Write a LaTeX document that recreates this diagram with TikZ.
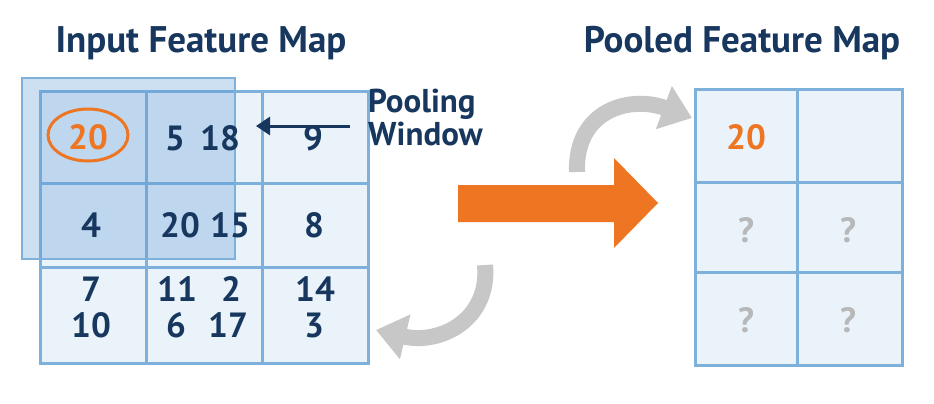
\documentclass[tikz,border=0pt]{standalone}
\usepackage{fontspec}
\setmainfont{PT Sans}
\usetikzlibrary{arrows.meta}
\definecolor{dk}{HTML}{17375E}
\definecolor{org}{HTML}{EE7623}
\definecolor{cellf}{HTML}{EAF2FA}
\definecolor{cline}{HTML}{7EB0DC}
\definecolor{win}{HTML}{5B9BD5}
\definecolor{qm}{HTML}{B8B8B8}
\begin{document}
\begin{tikzpicture}[x=1pt,y=-1pt,
  num/.style={font=\fontsize{35}{35}\selectfont\bfseries,text=dk,inner sep=0},
  ttl/.style={font=\fontsize{37}{37}\selectfont\bfseries,text=dk,inner sep=0},
  q/.style={font=\fontsize{35}{35}\selectfont\bfseries,text=qm,inner sep=0},
  grid/.style={draw=cline,line width=3pt},
  garrow/.style={draw=black!22,line width=16pt,-{Triangle[length=30pt,width=44pt]}}]
\useasboundingbox (0,0) rectangle (934,404);
\fill[white] (0,0) rectangle (934,404);
% titles
\node[ttl] (t1) at (201,43) {Input Feature Map};
\node[ttl] (t2) at (742,43) {Pooled Feature Map};
% input grid
\fill[cellf] (40,91) rectangle (368,363);
\draw[grid] (40,91) rectangle (368,363);
\draw[grid] (146,91) -- (146,363) (262,91) -- (262,363);
\draw[grid] (40,183) -- (368,183) (40,267) -- (368,267);
% window overlay
\fill[win,opacity=0.3] (22,78) rectangle (235,259);
\draw[cline,line width=2.5pt] (22,78) rectangle (235,259);
% numbers
\node[num,text=org] (n1) at (88,137) {20};
\draw[org,line width=3pt] (88,135) ellipse (40pt and 26pt);
\node[num] (n2) at (175,138) {5};
\node[num] (n3) at (220,138) {18};
\node[num] (n4) at (313,138) {9};
\node[num] (n5) at (91,225) {4};
\node[num] (n6) at (180,225) {20};
\node[num] (n7) at (230,225) {15};
\node[num] (n8) at (314,225) {8};
\node[num] (n9) at (91,289) {7};
\node[num] (n10) at (91,325) {10};
\node[num] (n11) at (177,289) {11};
\node[num] (n12) at (231,289) {2};
\node[num] (n13) at (176,325) {6};
\node[num] (n14) at (228,325) {17};
\node[num] (n15) at (315,289) {14};
\node[num] (n16) at (314,325) {3};
% pooling window label
\node[font=\fontsize{33}{33}\selectfont\bfseries,text=dk,align=left,inner sep=0,anchor=west] (pw) at (368,117) {Pooling\\Window};
\coordinate (pa) at (350,126);
\coordinate (pb) at (256,126);
\draw[dk,line width=3pt,-{Triangle[length=14pt,width=18pt]}] (pa) -- (pb);
% orange arrow
\fill[org] (458,185) -- (614,185) -- (614,158) -- (658,203) -- (614,248) -- (614,222) -- (458,222) -- cycle;
% gray curved arrows
\coordinate (g1s) at (577,172);
\coordinate (g1e) at (692,118);
\draw[garrow] (g1s) .. controls (575,110) and (630,95) .. (g1e);
\coordinate (g2s) at (485,265);
\coordinate (g2e) at (376,330);
\draw[garrow] (g2s) .. controls (490,320) and (440,345) .. (g2e);
% pooled grid
\fill[cellf] (695,89) rectangle (902,365);
\draw[grid] (695,89) rectangle (902,365);
\draw[grid] (797,89) -- (797,365);
\draw[grid] (695,182) -- (902,182) (695,272) -- (902,272);
\node[num,text=org] (p1) at (746,137) {20};
\node[q] (p3) at (746,230) {?};
\node[q] (p4) at (848,230) {?};
\node[q] (p5) at (746,320) {?};
\node[q] (p6) at (848,320) {?};
\end{tikzpicture}
\end{document}
